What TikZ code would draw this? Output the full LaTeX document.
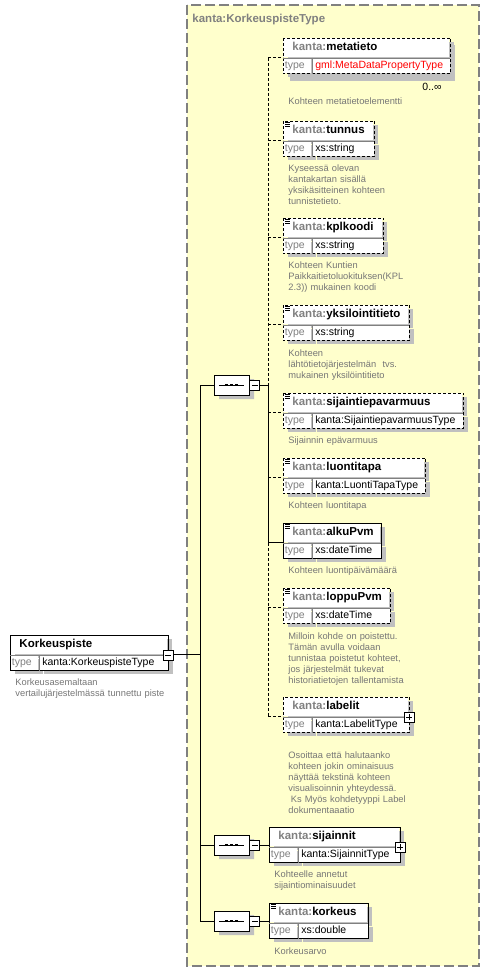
\documentclass[tikz,border=0pt]{standalone}
\usepackage{fontspec}
\setmainfont{Liberation Sans}
\usetikzlibrary{shapes.misc,shadows}
\definecolor{schemayellow}{RGB}{255,255,204}
\definecolor{framegray}{RGB}{128,128,128}
\definecolor{prefixgray}{RGB}{128,128,128}
\definecolor{docgray}{RGB}{118,118,118}
\definecolor{shadowgray}{RGB}{192,192,192}
\definecolor{gmlred}{RGB}{255,0,0}

\newcommand{\kanta}{\textcolor{prefixgray}{kanta:}}
% element box: name, border, top left, width, header, type
\newcommand{\xsdelem}[6]{%
  \node[elhead=#4] (#1) at (#3) {#5};
  \node[eltype] (#1t) at (#1.south west) {type};
  \node[elvalue=#4] (#1v) at (#1t.north east) {\mbox{#6}};
  \draw[#2] (#1.north west) rectangle (#1v.south east);
  \draw[divider] (#1.south west) -- (#1.south east) (#1t.north east) -- (#1t.south east);
}
\newcommand{\docmark}[1]{%
  \draw[docicon] ([shift={(2,1)}]#1.north west) -- +(5,0) +(0,2) -- +(5,2) +(0,4) -- +(5,4);
}

\begin{document}
\begin{tikzpicture}[x=1pt, y=-1pt, line width=0.9pt,
    boxshadow/.style={drop shadow={shadow xshift=5pt, shadow yshift=-4pt, fill=shadowgray, opacity=1}},
    schemabox/.style={fill=schemayellow, draw=framegray, line width=1.2pt, dash pattern=on 10pt off 4pt},
    typetitle/.style={anchor=base west, inner sep=0, text=prefixgray, font=\fontsize{11.5}{13}\selectfont\bfseries},
    elhead/.style={anchor=north west, fill=white, boxshadow, inner xsep=9pt, inner ysep=0, text width=#1-18, align=left,
        minimum height=19, text height=8.5pt, text depth=2.5pt, font=\fontsize{11.5}{13}\selectfont\bfseries},
    eltype/.style={anchor=north west, fill=white, boxshadow, inner xsep=1.5pt, inner ysep=0, text width=25pt,
        minimum height=15, text height=7.5pt, text depth=2pt, text=prefixgray, font=\fontsize{10.5}{12}\selectfont},
    elvalue/.style={anchor=north west, fill=white, boxshadow, inner xsep=3pt, inner ysep=0, text width=#1-34, align=left,
        minimum height=15, text height=7.5pt, text depth=2pt, font=\fontsize{10.5}{12}\selectfont},
    required/.style={draw=black},
    optional/.style={draw=black, dash pattern=on 3pt off 2pt},
    divider/.style={draw=gray, line width=0.7pt},
    docicon/.style={line width=0.7pt},
    doc/.style={anchor=base west, text width=200pt, align=left, inner sep=0, text=docgray, font=\fontsize{9.3}{11}\selectfont},
    optline/.style={dash pattern=on 3pt off 2pt},
    seq/.style={chamfered rectangle, chamfered rectangle xsep=5pt, draw, fill=white, boxshadow, minimum width=35, minimum height=20, inner sep=0,
        path picture={\draw[black] ([xshift=5pt]path picture bounding box.west) -- ([xshift=-5pt]path picture bounding box.east);
          \draw[black, line width=2.4pt] ([xshift=-6.5pt]path picture bounding box.center) -- +(3,0)
            ([xshift=-1.5pt]path picture bounding box.center) -- +(3,0) ([xshift=3.5pt]path picture bounding box.center) -- +(3,0);}},
    minusbox/.style={draw, fill=white, minimum size=10, inner sep=0, line width=0.8pt,
        path picture={\draw[black] ([xshift=2pt]path picture bounding box.west) -- ([xshift=-2pt]path picture bounding box.east);}},
    plusbox/.style={minusbox,
        path picture={\draw[black] ([xshift=2pt]path picture bounding box.west) -- ([xshift=-2pt]path picture bounding box.east)
          ([yshift=2pt]path picture bounding box.south) -- ([yshift=-2pt]path picture bounding box.north);}}
]
\useasboundingbox (0,0) rectangle (490,973);
\draw[schemabox] (187,5) rectangle (479,966);
\node[typetitle] (title) at (192,23) {kanta:KorkeuspisteType};

% root element
\xsdelem{root}{required}{10,635}{157}{Korkeuspiste}{kanta:KorkeuspisteType}
\node[minusbox] (rootm) at (root.south east) {};
\node[doc] (rootdoc) at (15,685.5) {Korkeusasemaltaan\\vertailujärjestelmässä tunnettu piste};

% compositors
\node[seq] (seq1) at (231.5,385) {};
\node[minusbox, anchor=west] (seq1m) at (seq1.east) {};
\node[seq] (seq2) at (231.5,845) {};
\node[minusbox, anchor=west] (seq2m) at (seq2.east) {};
\node[seq] (seq3) at (231.5,921) {};
\node[minusbox, anchor=west] (seq3m) at (seq3.east) {};

% children
\fill[shadowgray] (290,45) rectangle (455,81);
\xsdelem{meta}{optional}{283,38}{166}{\kanta metatieto}{\textcolor{gmlred}{gml:MetaDataPropertyType}}
\node[anchor=base, inner sep=0, font=\fontsize{10.5}{12}\selectfont] (metamult) at (432,91) {0..∞};
\node[doc] (metadoc) at (288,104.5) {Kohteen metatietoelementti};

\xsdelem{tunnus}{optional}{283,121}{90}{\kanta tunnus}{xs:string}
\docmark{tunnus}
\node[doc] (tunnusdoc) at (288,171.5) {Kyseessä olevan\\kantakartan sisällä\\yksikäsitteinen kohteen\\tunnistetieto.};

\xsdelem{kplkoodi}{optional}{283,218}{99}{\kanta kplkoodi}{xs:string}
\docmark{kplkoodi}
\node[doc] (kplkoodidoc) at (288,269) {Kohteen Kuntien\\Paikkaitietoluokituksen(KPL\\2.3)) mukainen koodi};

\xsdelem{yksilointi}{optional}{283,305}{125}{\kanta yksilointitieto}{xs:string}
\docmark{yksilointi}
\node[doc] (yksilointidoc) at (288,356) {Kohteen\\lähtötietojärjestelmän\ \ tvs.\\mukainen yksilöintitieto};

\xsdelem{epavarmuus}{optional}{283,393}{179}{\kanta sijaintiepavarmuus}{kanta:SijaintiepavarmuusType}
\docmark{epavarmuus}
\node[doc] (epavarmuusdoc) at (288,443) {Sijainnin epävarmuus};

\xsdelem{luontitapa}{optional}{283,458}{141}{\kanta luontitapa}{kanta:LuontiTapaType}
\docmark{luontitapa}
\node[doc] (luontitapadoc) at (288,508.5) {Kohteen luontitapa};

\xsdelem{alkupvm}{required}{283,523}{97}{\kanta alkuPvm}{xs:dateTime}
\docmark{alkupvm}
\node[doc] (alkupvmdoc) at (288,573.5) {Kohteen luontipäivämäärä};

\xsdelem{loppupvm}{optional}{283,588}{106}{\kanta loppuPvm}{xs:dateTime}
\docmark{loppupvm}
\node[doc] (loppupvmdoc) at (288,639.5) {Milloin kohde on poistettu.\\Tämän avulla voidaan\\tunnistaa poistetut kohteet,\\jos järjestelmät tukevat\\historiatietojen tallentamista};

\xsdelem{labelit}{optional}{283,697}{125}{\kanta labelit}{kanta:LabelitType}
\node[plusbox] (labelitp) at (labelit.south east) {};
\node[doc] (labelitdoc) at (288,758.5) {Osoittaa että halutaanko\\kohteen jokin ominaisuus\\näyttää tekstinä kohteen\\visualisoinnin yhteydessä.\\\hspace*{2.5pt}Ks Myös kohdetyyppi Label\\dokumentaaatio};

\xsdelem{sijainnit}{required}{269,827}{130}{\kanta sijainnit}{kanta:SijainnitType}
\node[plusbox] (sijainnitp) at (sijainnit.south east) {};
\node[doc] (sijainnitdoc) at (274,877.5) {Kohteelle annetut\\sijaintiominaisuudet};

\xsdelem{korkeus}{required}{269,903}{98}{\kanta korkeus}{xs:double}
\docmark{korkeus}
\node[doc] (korkeusdoc) at (274,954) {Korkeusarvo};

% connectors
\coordinate (main) at (200,0);
\coordinate (bus) at (268,0);
\draw (rootm.east) -- (rootm.east -| main) (seq1.west -| main) -- (seq3.west -| main);
\draw (seq1.west -| main) -- (seq1.west) (seq2.west -| main) -- (seq2.west) (seq3.west -| main) -- (seq3.west);
\draw (seq2m.east) -- (seq2m.east -| sijainnit.west) (seq3m.east) -- (seq3m.east -| korkeus.west);
\draw (seq1m.east) -- (seq1m.east -| bus) -- (alkupvm.south west -| bus) -- (alkupvm.south west);
\draw[optline] (meta.south west -| bus) -- (seq1m.east -| bus) (alkupvm.south west -| bus) -- (labelit.south west -| bus);
\draw[optline] (meta.south west -| bus) -- (meta.south west) (tunnus.south west -| bus) -- (tunnus.south west)
  (kplkoodi.south west -| bus) -- (kplkoodi.south west) (yksilointi.south west -| bus) -- (yksilointi.south west)
  (epavarmuus.south west -| bus) -- (epavarmuus.south west) (luontitapa.south west -| bus) -- (luontitapa.south west)
  (loppupvm.south west -| bus) -- (loppupvm.south west) (labelit.south west -| bus) -- (labelit.south west);
\end{tikzpicture}
\end{document}
